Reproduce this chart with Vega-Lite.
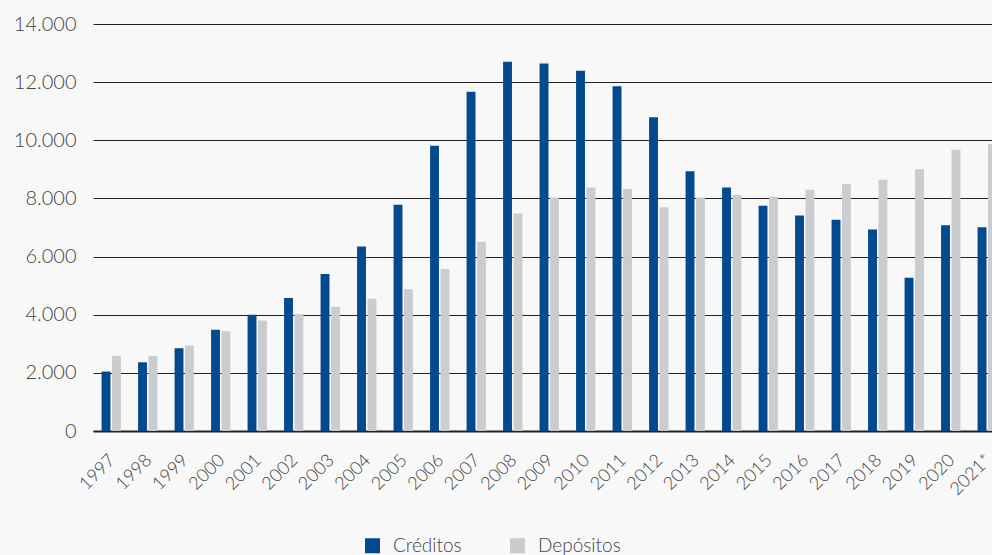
{
  "$schema": "https://vega.github.io/schema/vega-lite/v6.json",
  "width": 899,
  "height": 407,
  "autosize": {"type": "none"},
  "padding": {"left": 93, "top": 24, "right": 0, "bottom": 124},
  "background": "#f8f8f8",
  "data": {
    "values": [
      {"ano": "1997", "serie": "Créditos", "valor": 2044}, {"ano": "1997", "serie": "Depósitos", "valor": 2586},
      {"ano": "1998", "serie": "Créditos", "valor": 2363}, {"ano": "1998", "serie": "Depósitos", "valor": 2586},
      {"ano": "1999", "serie": "Créditos", "valor": 2847}, {"ano": "1999", "serie": "Depósitos", "valor": 2939},
      {"ano": "2000", "serie": "Créditos", "valor": 3481}, {"ano": "2000", "serie": "Depósitos", "valor": 3434},
      {"ano": "2001", "serie": "Créditos", "valor": 3995}, {"ano": "2001", "serie": "Depósitos", "valor": 3800},
      {"ano": "2002", "serie": "Créditos", "valor": 4572}, {"ano": "2002", "serie": "Depósitos", "valor": 4025},
      {"ano": "2003", "serie": "Créditos", "valor": 5403}, {"ano": "2003", "serie": "Depósitos", "valor": 4270},
      {"ano": "2004", "serie": "Créditos", "valor": 6345}, {"ano": "2004", "serie": "Depósitos", "valor": 4549},
      {"ano": "2005", "serie": "Créditos", "valor": 7786}, {"ano": "2005", "serie": "Depósitos", "valor": 4877},
      {"ano": "2006", "serie": "Créditos", "valor": 9814}, {"ano": "2006", "serie": "Depósitos", "valor": 5576},
      {"ano": "2007", "serie": "Créditos", "valor": 11668}, {"ano": "2007", "serie": "Depósitos", "valor": 6507},
      {"ano": "2008", "serie": "Créditos", "valor": 12700}, {"ano": "2008", "serie": "Depósitos", "valor": 7483},
      {"ano": "2009", "serie": "Créditos", "valor": 12643}, {"ano": "2009", "serie": "Depósitos", "valor": 8035},
      {"ano": "2010", "serie": "Créditos", "valor": 12392}, {"ano": "2010", "serie": "Depósitos", "valor": 8375},
      {"ano": "2011", "serie": "Créditos", "valor": 11857}, {"ano": "2011", "serie": "Depósitos", "valor": 8326},
      {"ano": "2012", "serie": "Créditos", "valor": 10796}, {"ano": "2012", "serie": "Depósitos", "valor": 7700},
      {"ano": "2013", "serie": "Créditos", "valor": 8937}, {"ano": "2013", "serie": "Depósitos", "valor": 8035},
      {"ano": "2014", "serie": "Créditos", "valor": 8375}, {"ano": "2014", "serie": "Depósitos", "valor": 8116},
      {"ano": "2015", "serie": "Créditos", "valor": 7750}, {"ano": "2015", "serie": "Depósitos", "valor": 8060},
      {"ano": "2016", "serie": "Créditos", "valor": 7410}, {"ano": "2016", "serie": "Depósitos", "valor": 8300},
      {"ano": "2017", "serie": "Créditos", "valor": 7265}, {"ano": "2017", "serie": "Depósitos", "valor": 8500},
      {"ano": "2018", "serie": "Créditos", "valor": 6930}, {"ano": "2018", "serie": "Depósitos", "valor": 8642},
      {"ano": "2019", "serie": "Créditos", "valor": 5274}, {"ano": "2019", "serie": "Depósitos", "valor": 9007},
      {"ano": "2020", "serie": "Créditos", "valor": 7079}, {"ano": "2020", "serie": "Depósitos", "valor": 9674},
      {"ano": "2021*", "serie": "Créditos", "valor": 7010}, {"ano": "2021*", "serie": "Depósitos", "valor": 9860}
    ]
  },
  "mark": {"type": "bar"},
  "encoding": {
    "x": {
      "field": "ano",
      "type": "nominal",
      "sort": null,
      "scale": {"range": [0, 912.5], "paddingInner": 0.47, "paddingOuter": 0.235},
      "axis": {
        "title": null,
        "labelAngle": -45,
        "labelAlign": "right",
        "labelBaseline": "top",
        "labelFontSize": 18,
        "labelFont": "Lato",
        "labelFontWeight": 300,
        "labelColor": "#444444",
        "ticks": false,
        "labelPadding": 20,
        "labelOffset": -5,
        "labelOverlap": false,
        "labelBound": false,
        "domainColor": "#222222",
        "domainWidth": 2,
        "grid": false
      }
    },
    "xOffset": {
      "field": "serie",
      "type": "nominal",
      "scale": {"paddingInner": 0.15}
    },
    "y": {
      "field": "valor",
      "type": "quantitative",
      "scale": {"domain": [0, 14000]},
      "axis": {
        "title": null,
        "values": [0, 2000, 4000, 6000, 8000, 10000, 12000, 14000],
        "labelExpr": "replace(format(datum.value, ','), ',', '.')",
        "labelFontSize": 20,
        "labelFont": "Lato",
        "labelFontWeight": 300,
        "labelColor": "#444444",
        "labelPadding": 17,
        "ticks": false,
        "domain": false,
        "grid": true,
        "gridColor": "#222222",
        "gridWidth": 1
      }
    },
    "color": {
      "field": "serie",
      "type": "nominal",
      "scale": {"domain": ["Créditos", "Depósitos"], "range": ["#03498d", "#c9cdd0"]},
      "legend": {
        "title": null,
        "orient": "none",
        "legendX": 270,
        "legendY": 512,
        "direction": "horizontal",
        "symbolType": "square",
        "symbolSize": 225,
        "symbolStrokeWidth": 0,
        "labelFontSize": 19,
        "labelFont": "Lato",
        "labelFontWeight": 300,
        "labelColor": "#444444",
        "labelOffset": 11,
        "columnPadding": 46
      }
    }
  },
  "config": {
    "view": {"stroke": null}
  }
}
